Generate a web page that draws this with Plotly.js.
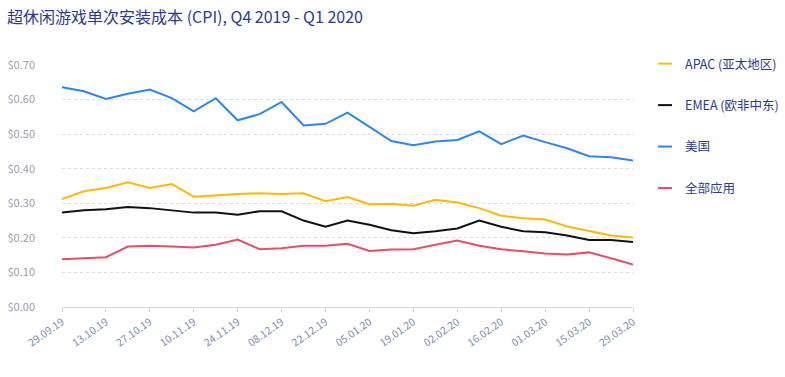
<!DOCTYPE html>
<html>
<head>
<meta charset="utf-8">
<script src="https://cdn.plot.ly/plotly-3.0.1.min.js"></script>
<style>html,body{margin:0;padding:0;background:#fff;}#chart{width:785px;height:377px;}</style>
</head>
<body>
<div id="chart"></div>
<script>
const weeks = ["29.09.19","06.10.19","13.10.19","20.10.19","27.10.19","03.11.19","10.11.19","17.11.19","24.11.19","01.12.19","08.12.19","15.12.19","22.12.19","29.12.19","05.01.20","12.01.20","19.01.20","26.01.20","02.02.20","09.02.20","16.02.20","23.02.20","01.03.20","08.03.20","15.03.20","22.03.20","29.03.20"];
const tickLabels = ["29.09.19","13.10.19","27.10.19","10.11.19","24.11.19","08.12.19","22.12.19","05.01.20","19.01.20","02.02.20","16.02.20","01.03.20","15.03.20","29.03.20"];
const seriesNames = ["APAC (亚太地区)","EMEA (欧非中东)","美国","全部应用"];
const apac = [0.312,0.335,0.344,0.361,0.344,0.356,0.319,0.324,0.327,0.329,0.327,0.329,0.306,0.318,0.297,0.299,0.293,0.310,0.302,0.286,0.264,0.257,0.253,0.233,0.221,0.207,0.201];
const emea = [0.273,0.280,0.283,0.289,0.286,0.280,0.273,0.273,0.267,0.277,0.277,0.250,0.232,0.250,0.238,0.222,0.213,0.219,0.227,0.250,0.232,0.219,0.216,0.207,0.194,0.194,0.188];
const usa = [0.636,0.624,0.602,0.617,0.629,0.604,0.566,0.604,0.540,0.558,0.593,0.525,0.530,0.562,0.521,0.480,0.468,0.479,0.483,0.508,0.471,0.496,0.477,0.459,0.436,0.433,0.424];
const allApps = [0.138,0.141,0.144,0.175,0.177,0.175,0.172,0.180,0.195,0.167,0.170,0.177,0.177,0.183,0.162,0.166,0.167,0.180,0.192,0.177,0.167,0.161,0.155,0.152,0.158,0.141,0.123];
const colors = ["#ffba00","#111111","#2c85f7","#e84d6c"];
const values = [apac, emea, usa, allApps];

const font = "'Noto Sans CJK SC', 'Noto Sans', sans-serif";
const traces = [];
values.forEach((v, k) => {
  traces.push({x: weeks, y: v, type: 'scatter', mode: 'lines', name: seriesNames[k],
    line: {color: colors[k], width: 2}, showlegend: false, hoverinfo: 'x+y'});
});
values.forEach((v, k) => {
  traces.push({x: [null], y: [null], type: 'scatter', mode: 'markers', name: seriesNames[k],
    legendgroup: 'g' + k,
    marker: {symbol: 'line-ew-open', size: 10, line: {color: colors[k], width: 2}, color: colors[k]}});
});

const layout = {
  width: 785, height: 377,
  margin: {l: 62, r: 152, t: 65, b: 69.5, autoexpand: false},
  paper_bgcolor: '#fff', plot_bgcolor: '#fff',
  font: {family: font, size: 11, color: '#8a94ab'},
  title: {text: '超休闲游戏单次安装成本 (CPI), Q4 2019 - Q1 2020', x: 0.009, xanchor: 'left', y: 0.955, yanchor: 'middle',
    font: {family: font, size: 16, color: '#2b3a8f'}},
  xaxis: {type: 'category', range: [0, weeks.length - 1], tickmode: 'array', tickvals: tickLabels, ticktext: tickLabels,
    tickangle: -35, ticks: 'outside', ticklen: 4, tickcolor: '#d9d9d9', showgrid: false, showline: true,
    linecolor: '#d9d9d9', linewidth: 1, tickfont: {family: font, size: 10.5, color: '#7d8db0'}, zeroline: false, fixedrange: true},
  yaxis: {range: [0, 0.7], tickvals: [0, 0.1, 0.2, 0.3, 0.4, 0.5, 0.6, 0.7], tickformat: '$.2f',
    showgrid: true, gridcolor: '#dcdcdc', griddash: 'dot', gridwidth: 1, zeroline: false, showline: false,
    ticklabelstandoff: 26, tickfont: {family: font, size: 11, color: '#9aa0b0'}, fixedrange: true},
  showlegend: true,
  legend: {x: 0.8217, xanchor: 'left', xref: 'container', y: 1.066, yanchor: 'top', tracegroupgap: 22.2, itemwidth: 30,
    font: {family: font, size: 12.5, color: '#2b3a8f'}, bgcolor: 'rgba(0,0,0,0)'}
};
Plotly.newPlot('chart', traces, layout, {displayModeBar: false, staticPlot: true});
</script>
</body>
</html>
